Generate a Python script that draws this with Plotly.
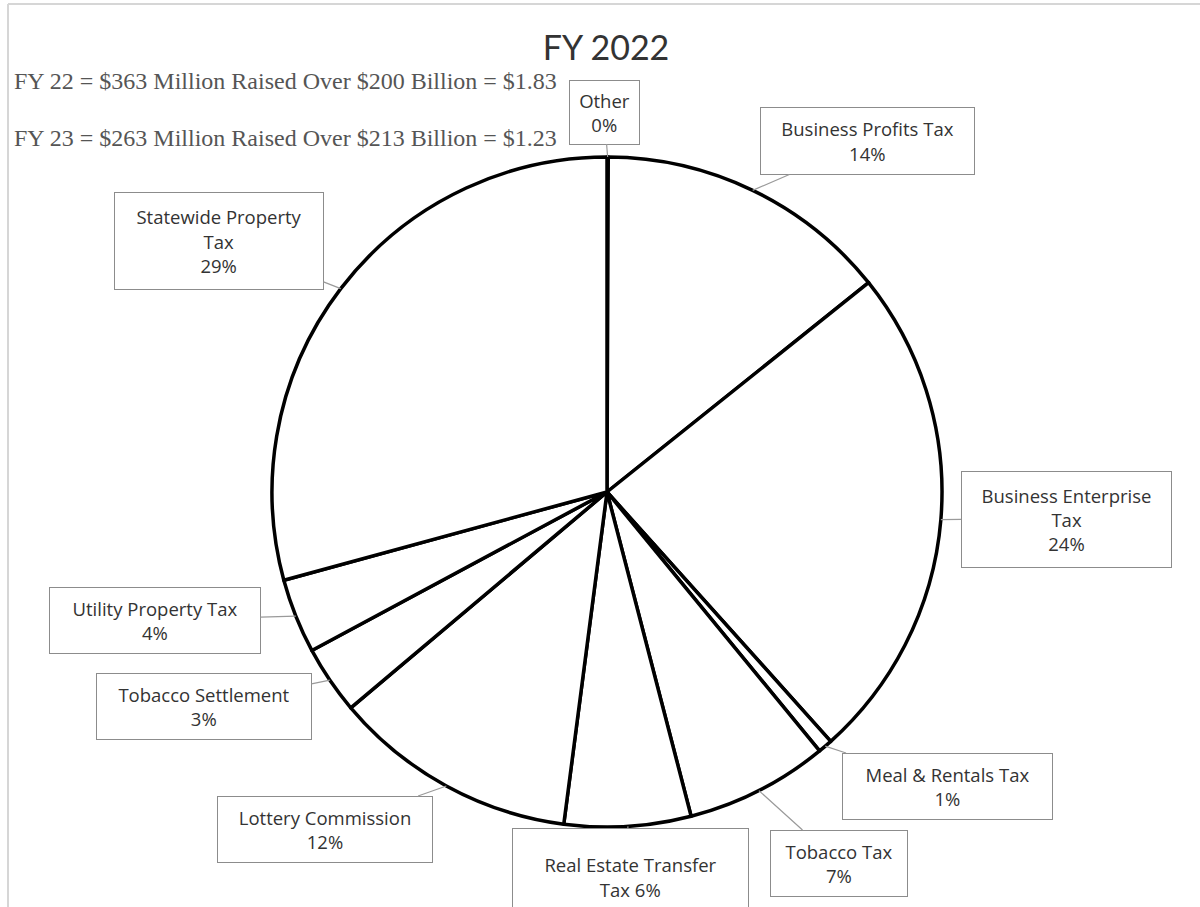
import math
import plotly.graph_objects as go

# ---- data ----
categories = ["Other", "Business Profits Tax", "Business Enterprise Tax", "Meal & Rentals Tax",
              "Tobacco Tax", "Real Estate Transfer Tax", "Lottery Commission",
              "Tobacco Settlement", "Utility Property Tax", "Statewide Property Tax"]
shares = [0.06, 14.2, 24.1, 0.7, 6.9, 6.1, 11.8, 3.3, 3.6, 29.24]
title_text = "FY 2022"
note_lines = ["FY 22 = $363 Million Raised Over $200 Billion = $1.83",
              "FY 23 = $263 Million Raised Over $213 Billion = $1.23"]

# ---- layout geometry (pixels) ----
W, H = 1200, 907
ML, MR, MT, MB = 272, 258, 157, 80
PW, PH = W - ML - MR, H - MT - MB


def to_paper(px, py):
    return (px - ML) / PW, 1 - (py - MT) / PH


# label box centre / size (pixels) and line wrapping
label_boxes = {
    "Other": (604, 112, 71, 65, "Other"),
    "Business Profits Tax": (867, 141, 215, 68, "Business Profits Tax"),
    "Business Enterprise Tax": (1066, 519, 211, 97, "Business Enterprise<br>Tax"),
    "Meal & Rentals Tax": (947, 786, 211, 67, "Meal & Rentals Tax"),
    "Tobacco Tax": (839, 863, 138, 67, "Tobacco Tax"),
    "Real Estate Transfer Tax": (630, 877, 237, 98, "Real Estate Transfer<br>Tax"),
    "Lottery Commission": (325, 829, 216, 67, "Lottery Commission"),
    "Tobacco Settlement": (204, 706, 216, 67, "Tobacco Settlement"),
    "Utility Property Tax": (155, 620, 212, 67, "Utility Property Tax"),
    "Statewide Property Tax": (219, 241, 210, 98, "Statewide Property<br>Tax"),
}

LABEL_FONT = dict(family="Open Sans, Lato, sans-serif", size=18.5, color="#333333")

fig = go.Figure(go.Pie(
    labels=categories, values=shares, sort=False, direction="clockwise", rotation=0,
    textinfo="none", hoverinfo="label+percent",
    marker=dict(colors=["white"] * len(categories), line=dict(color="black", width=3.5)),
    showlegend=False,
))

total = sum(shares)
cx, cy = ML + PW / 2, MT + PH / 2
R = min(PW, PH) / 2
cum = 0.0
annotations = []
for name, v in zip(categories, shares):
    mid = (cum + v / 2) / total * 2 * math.pi
    cum += v
    apx, apy = cx + R * math.sin(mid), cy - R * math.cos(mid)
    bx, by, bw, bh, wrapped = label_boxes[name]
    pct = round(v / total * 100)
    if name == "Real Estate Transfer Tax":
        text = f"{wrapped} {pct}%"
    else:
        text = f"{wrapped}<br>{pct}%"
    x, y = to_paper(apx, apy)
    annotations.append(dict(
        x=x, y=y, xref="paper", yref="paper", text=text, showarrow=True,
        ax=bx - apx, ay=by - apy, arrowhead=0, arrowwidth=1.2, arrowcolor="#9a9a9a",
        standoff=0, startstandoff=0,
        width=bw - 2, height=bh - 2, align="center", valign="middle",
        bordercolor="#8c8c8c", borderwidth=1, borderpad=0, bgcolor="white",
        font=LABEL_FONT,
    ))

for i, (line, py) in enumerate(zip(note_lines, [81, 138])):
    x, y = to_paper(12, py)
    annotations.append(dict(
        x=x, y=y, xref="paper", yref="paper", text=line, showarrow=False,
        xanchor="left", yanchor="middle",
        font=dict(family="Liberation Serif, serif", size=24, color="#555555"),
    ))

x0, y0 = to_paper(8, 4)
x1, y1 = to_paper(W + 5, H + 5)
shapes = [
    dict(type="line", xref="paper", yref="paper", x0=x0, y0=y0, x1=x1, y1=y0,
         line=dict(color="#d6d6d6", width=2)),
    dict(type="line", xref="paper", yref="paper", x0=x0, y0=y0, x1=x0, y1=y1,
         line=dict(color="#d6d6d6", width=2)),
]

fig.update_layout(
    width=W, height=H,
    margin=dict(l=ML, r=MR, t=MT, b=MB),
    paper_bgcolor="white", plot_bgcolor="white",
    title=dict(text=title_text, x=(cx - 1) / W, xanchor="center", y=1 - 48 / H, yanchor="middle",
               font=dict(family="Lato, Open Sans, sans-serif", size=34, color="#333333")),
    annotations=annotations, shapes=shapes,
)

fig.write_html("out.html", config={"displayModeBar": False},
               post_script="document.body.style.margin='0';document.body.style.overflow='hidden';")
